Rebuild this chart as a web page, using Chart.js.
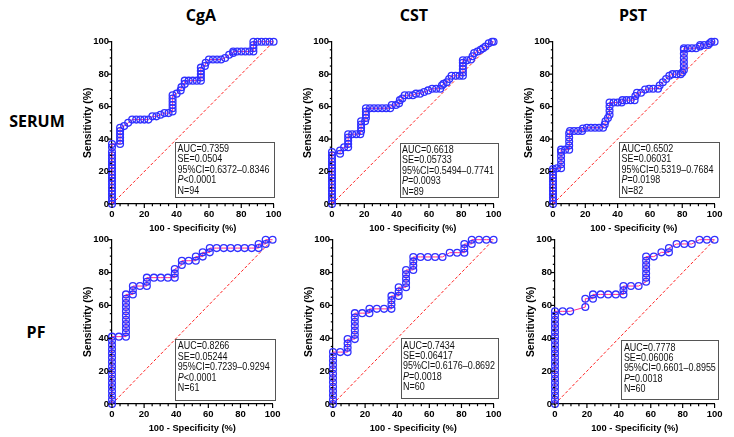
<!DOCTYPE html>
<html><head><meta charset="utf-8">
<script src="https://cdn.jsdelivr.net/npm/chart.js@4.4.1/dist/chart.umd.min.js"></script>
<style>
html,body{margin:0;padding:0;background:#fff;width:734px;height:437px;overflow:hidden;position:relative}
.lbl{position:absolute;font-family:'Open Sans',sans-serif;font-weight:700;color:#000;white-space:nowrap;transform:translate(-50%,-50%);line-height:1}
canvas{position:absolute}
</style></head><body>
<script>
// ---------------- DATA ----------------
const markers = ['CgA', 'CST', 'PST'];
const sampleTypes = ['SERUM', 'PF'];
const tickValues = [0, 20, 40, 60, 80, 100];
const diagonal = [0, 100];
const xAxisTitle = '100 - Specificity (%)';
const yAxisTitle = 'Sensitivity (%)';

// SERUM / CgA
const fprCgASerum = [0,0,0,0,0,0,0,0,0,0,0,0,0,0,0,0,0,0,0,5,5,5,5,5,5,7.5,10,12.5,15,17.5,20,22.5,25,27.5,30,32.5,35,37.5,37.5,37.5,37.5,37.5,37.5,40,42.5,43,45,45,47.5,50,52.5,55,55,55,55,55,57.5,58,60,62.5,65,67.5,70,72.5,75,75,77.5,80,82.5,85,87.5,87.5,87.5,87.5,90,92.5,95,97.5,100];
const tprCgASerum = [0,2,4,6,8,10,12,14,16,18,20,22,24,26,28,30,32,35,37,37,39,41,43,45,47,48,50,52,52,52,52,52,54,54,55,56,56,57,59,61,63,65,67,68,70,72,74,76,76,76,76,76,78,80,82,84,85,87,89,89,89,89,90,92,93,94,94,94,94,94,94,96,98,100,100,100,100,100,100];
const statsCgASerum = ['AUC=0.7359', 'SE=0.0504', '95%CI=0.6372\u20130.8346', 'P<0.0001', 'N=94'];

// SERUM / CST
const fprCSTSerum = [0,0,0,0,0,0,0,0,0,0,0,0,0,0,0,0,0,5,5,7.5,10,10,10,10,10,12.5,15,17.5,18,18,18,18,20.5,21,21,21,21,23.5,26,28.5,31,33.5,36,37,39.5,41.5,42,43.5,45,47.5,50,52,54.5,57,59.5,62,64.5,67,68,69,71,72.5,74,76.5,79,81,81,81,81,81,81,83.5,86,87,88,90,92,93.5,95,97,99,100];
const tprCSTSerum = [0,2,4,6,8,10,12,14,16,18,20,22,24,26,28,30,32,31,33,35,35,37,39,41,43,43,43,43,45,47,49,51,51,53,55,57,59,59,59,59,59,59,59,61,61,62,64,65,67,67,67,68,68,69,70,71,71,71,73,74,75,77,79,79,79,79,81,83,85,87,88.5,88.5,89,91,93,94,95,96,97,99,100,100];
const statsCSTSerum = ['AUC=0.6618', 'SE=0.05733', '95%CI=0.5494\u20130.7741', 'P=0.0093', 'N=89'];

// SERUM / PST
const fprPSTSerum = [0,0,0,0,0,0,0,0,0,0,0,0,2.5,5,5,5,5,5,5,7.5,10,10,10,10,10,10.5,13,15.5,18,18.5,21,23.5,26,28.5,31,32,32.5,34,35,35,35,35,37.5,40,42.5,43,45.5,48,50.5,51,52,54.5,57,59.5,62,65,66,68,70,72,74,76.5,79,80,81,81,81,81,81,81,81,83.5,86,88.5,91,91,93.5,96,97,98,100];
const tprPSTSerum = [0,2,4,6,8,10,12,14,16,18,20,21.5,22,22,24.5,27,29.5,32,33.5,33.5,33.5,36,38.5,41,43.5,45,45,45,45,46.5,47,47,47,47,47,49,51,53,55,57.5,60,62.5,62.5,62.5,62.5,64,64,64,64,66.5,68.5,68.5,70.5,71,71,71,73,75,77,79,80,80,80,81,82.5,85,87.5,90,92.5,95,96,96,96,96,97,98,98,98,99,100,100];
const statsPSTSerum = ['AUC=0.6502', 'SE=0.06031', '95%CI=0.5319\u20130.7684', 'P=0.0198', 'N=82'];

// PF / CgA
const fprCgAPF = [0,0,0,0,0,0,0,0,0,0,0,0,0,0,0,0,0,4.3,8.7,8.7,8.7,8.7,8.7,8.7,8.7,8.7,8.7,8.7,8.7,13,13,13,17.4,21.7,21.7,21.7,26.1,30.4,34.8,39.1,39.1,39.1,43.5,43.5,47.8,52.2,52.2,56.5,56.5,60.9,60.9,65.2,69.6,73.9,78.3,82.6,87,91.3,91.3,95.7,95.7,100];
const tprCgAPF = [0,2.6,5.1,7.7,10.3,12.8,15.4,18,20.5,23,25.6,28.2,30.8,33.3,35.9,38.5,41,41,41,43.6,46.2,48.7,51.3,53.8,56.4,59,61.5,64.1,66.7,66.7,69.2,71.8,71.8,71.8,74.4,76.9,76.9,76.9,76.9,76.9,79.5,82.1,84.6,87.2,87.2,87.2,89.7,89.7,92.3,92.3,94.9,94.9,94.9,94.9,94.9,94.9,94.9,94.9,97.4,97.4,100,100];
const statsCgAPF = ['AUC=0.8266', 'SE=0.05244', '95%CI=0.7239\u20130.9294', 'P<0.0001', 'N=61'];

// PF / CST
const fprCSTPF = [0,0,0,0,0,0,0,0,0,0,0,0,0,4.5,9.1,9.1,9.1,9.1,13.6,13.6,13.6,13.6,13.6,13.6,13.6,18.2,22.7,22.7,27.3,31.8,36.4,36.4,36.4,36.4,40.9,40.9,40.9,45.5,45.5,45.5,45.5,45.5,50,50,50,50,54.5,59.1,63.6,68.2,72.7,77.3,81.8,81.8,81.8,86.4,86.4,90.9,95.5,100];
const tprCSTPF = [0,2.6,5.3,7.9,10.5,13.2,15.8,18.4,21.1,23.7,26.3,28.9,31.6,31.6,31.6,34.2,36.8,39.5,39.5,42.1,44.7,47.4,50,52.6,55.3,55.3,55.3,57.9,57.9,57.9,57.9,60.5,63.2,65.8,65.8,68.4,71.1,71.1,73.7,76.3,78.9,81.6,81.6,84.2,86.8,89.5,89.5,89.5,89.5,89.5,92.1,92.1,92.1,94.7,97.4,97.4,100,100,100,100];
const statsCSTPF = ['AUC=0.7434', 'SE=0.06417', '95%CI=0.6176\u20130.8692', 'P=0.0018', 'N=60'];

// PF / PST
const fprPSTPF = [0,0,0,0,0,0,0,0,0,0,0,0,0,0,0,0,0,0,0,0,0,0,0,4.8,9.5,19,19,23.8,23.8,28.6,33.3,38.1,42.9,42.9,42.9,47.6,52.4,57.1,57.1,57.1,57.1,57.1,57.1,57.1,61.9,66.7,71.4,71.4,76.2,81,85.7,90.5,95.2,100];
const tprPSTPF = [0,2.6,5.1,7.7,10.3,12.8,15.4,17.9,20.5,23.1,25.6,28.2,30.8,33.3,35.9,38.5,41,43.6,46.2,48.7,51.3,53.8,56.4,56.4,56.4,59,64.1,64.1,66.7,66.7,66.7,66.7,66.7,69.2,71.8,71.8,71.8,74.4,76.9,79.5,82.1,84.6,87.2,89.7,89.7,92.3,92.3,94.9,97.4,97.4,97.4,100,100,100];
const statsPSTPF = ['AUC=0.7778', 'SE=0.06006', '95%CI=0.6601\u20130.8955', 'P=0.0018', 'N=60'];

// ---------------- STYLE / LAYOUT ----------------
const FONT = "'Liberation Sans', Arial, sans-serif";
const BLUE = '#3030ff';
const LINE = '#ff2a8c';
const RED = '#ff2020';
const YW = 30, XH = 32, PT = 8, PR = 8;

const panels = [
  {fpr: fprCgASerum, tpr: tprCgASerum, stats: statsCgASerum, a: 112, b: 278, c: 41, d: 204, box: {x0: 39, y0: 4.6, y1: 38.3, ext: 0.6}},
  {fpr: fprCSTSerum, tpr: tprCSTSerum, stats: statsCSTSerum, a: 332, b: 498, c: 41, d: 204, box: {x0: 41.8, y0: 4.6, y1: 37.7, ext: 4.4}},
  {fpr: fprPSTSerum, tpr: tprPSTSerum, stats: statsPSTSerum, a: 553, b: 719, c: 41, d: 204, box: {x0: 40.9, y0: 4.6, y1: 38.3, ext: 4.3}},
  {fpr: fprCgAPF, tpr: tprCgAPF, stats: statsCgAPF, a: 112, b: 277, c: 239, d: 404, box: {x0: 39.4, y0: 2.6, y1: 39.5, ext: 2.3}},
  {fpr: fprCSTPF, tpr: tprCSTPF, stats: statsCSTPF, a: 333, b: 498, c: 239, d: 404, box: {x0: 42.1, y0: 3.2, y1: 39.9, ext: 4.3}},
  {fpr: fprPSTPF, tpr: tprPSTPF, stats: statsPSTPF, a: 555, b: 719, c: 239, d: 404, box: {x0: 41.6, y0: 2.6, y1: 38.7, ext: 4}}
];

// headers
const headerPos = [[201, 15], [414, 15], [633, 15]];
markers.forEach((m, i) => {
  const el = document.createElement('div');
  el.className = 'lbl'; el.textContent = m;
  el.style.left = headerPos[i][0] + 'px'; el.style.top = headerPos[i][1] + 'px'; el.style.fontSize = '16px';
  document.body.appendChild(el);
});
const rowPos = [[37, 121], [36, 332]];
sampleTypes.forEach((s, i) => {
  const el = document.createElement('div');
  el.className = 'lbl'; el.textContent = s;
  el.style.left = rowPos[i][0] + 'px'; el.style.top = rowPos[i][1] + 'px'; el.style.fontSize = '16px';
  document.body.appendChild(el);
});

const tickPlugin = {
  id: 'axisTicks',
  afterDraw(chart) {
    const {ctx, scales: {x, y}} = chart;
    ctx.save();
    ctx.strokeStyle = '#000'; ctx.lineWidth = 1.2;
    for (let v = 0; v <= 100; v += 5) {
      const len = v % 20 === 0 ? 4 : 2.2;
      const px = x.getPixelForValue(v);
      ctx.beginPath(); ctx.moveTo(px, x.top); ctx.lineTo(px, x.top + len); ctx.stroke();
      const py = y.getPixelForValue(v);
      ctx.beginPath(); ctx.moveTo(y.right, py); ctx.lineTo(y.right - len, py); ctx.stroke();
    }
    ctx.restore();
  }
};

const SX = 0.88;
const boxPlugin = {
  id: 'statBox',
  afterDatasetsDraw(chart, args, opts) {
    const {ctx, scales: {x, y}, chartArea} = chart;
    const bx = opts.box;
    const L = x.getPixelForValue(bx.x0), R = chartArea.right + bx.ext;
    const T = y.getPixelForValue(bx.y1), B = y.getPixelForValue(bx.y0);
    ctx.save();
    ctx.fillStyle = '#fff';
    ctx.fillRect(L, T, R - L, B - T);
    ctx.strokeStyle = '#555'; ctx.lineWidth = 1;
    ctx.strokeRect(Math.round(L) + 0.5, Math.round(T) + 0.5, Math.round(R - L), Math.round(B - T));
    ctx.fillStyle = '#111'; ctx.textBaseline = 'alphabetic'; ctx.textAlign = 'left';
    opts.lines.forEach((ln, i) => {
      const yy = T + 10.2 + i * 10.4;
      ctx.save();
      ctx.translate(L + 2.5, yy);
      ctx.scale(SX, 1);
      if (ln.charAt(0) === 'P') {
        ctx.font = 'italic 10.2px ' + FONT;
        ctx.fillText('P', 0, 0);
        const w = ctx.measureText('P').width;
        ctx.font = '10.2px ' + FONT;
        ctx.fillText(ln.slice(1), w, 0);
      } else {
        ctx.font = '10.2px ' + FONT;
        ctx.fillText(ln, 0, 0);
      }
      ctx.restore();
    });
    ctx.restore();
  }
};

function axisCfg(title, size, isX) {
  return {
    type: 'linear', min: 0, max: 100,
    afterFit: s => { if (isX) s.height = XH; else s.width = YW; },
    afterBuildTicks: s => { s.ticks = tickValues.map(v => ({value: v})); },
    grid: {display: true, drawOnChartArea: false, drawTicks: false},
    border: {display: true, color: '#000', width: 1.2},
    ticks: {padding: isX ? 4.5 : 3, color: '#000', autoSkip: false, maxRotation: 0,
      font: {family: FONT, size: 9.5, weight: 'bold'}},
    title: {display: true, text: title, color: '#000',
      font: {family: FONT, size: size, weight: 'bold'},
      padding: isX ? {top: 0, bottom: 2.4} : {top: 0, bottom: 0}}
  };
}

panels.forEach(p => {
  const cv = document.createElement('canvas');
  const W = (p.b - p.a) + YW + PR, H = (p.d - p.c) + PT + XH;
  cv.width = W; cv.height = H;
  cv.style.left = (p.a - YW) + 'px'; cv.style.top = (p.c - PT) + 'px';
  cv.style.width = W + 'px'; cv.style.height = H + 'px';
  document.body.appendChild(cv);
  const pts = p.fpr.map((xv, i) => ({x: xv, y: p.tpr[i]}));
  new Chart(cv, {
    type: 'scatter',
    data: {datasets: [
      {data: pts, showLine: true, borderColor: LINE, borderWidth: 1, tension: 0,
       pointRadius: 3.4, pointBorderColor: BLUE, pointBackgroundColor: 'rgba(0,0,0,0)',
       pointBorderWidth: 1.3, pointStyle: 'circle', clip: false},
      {data: [{x: diagonal[0], y: diagonal[0]}, {x: diagonal[1], y: diagonal[1]}],
       showLine: true, borderColor: RED, borderWidth: 1, borderDash: [3, 2], pointRadius: 0, clip: false}
    ]},
    options: {
      responsive: false, animation: false, devicePixelRatio: 1,
      layout: {padding: {left: 0, top: PT, right: PR, bottom: 0}},
      plugins: {legend: {display: false}, tooltip: {enabled: false},
        statBox: {box: p.box, lines: p.stats}},
      scales: {x: axisCfg(xAxisTitle, 9.3, true), y: axisCfg(yAxisTitle, 10.3, false)}
    },
    plugins: [tickPlugin, boxPlugin]
  });
});
</script>
</body></html>
